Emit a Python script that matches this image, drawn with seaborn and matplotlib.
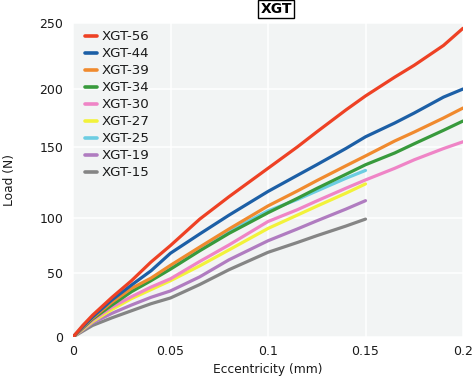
import numpy as np
import pandas as pd
import matplotlib
matplotlib.use("Agg")
import matplotlib.pyplot as plt
import seaborn as sns

# ---------------- data ----------------
series_names = ["XGT-56", "XGT-44", "XGT-39", "XGT-34", "XGT-30",
                "XGT-27", "XGT-25", "XGT-19", "XGT-15"]
series_colors = ["#ee4124", "#1c5fa6", "#f08a2e", "#389a3c", "#ef84c6",
                 "#f2f23a", "#6ccde2", "#b07cc0", "#858585"]

x_long = [0, 0.005, 0.01, 0.02, 0.03, 0.04, 0.05, 0.065, 0.08, 0.1,
          0.115, 0.125, 0.14, 0.15, 0.165, 0.175, 0.19, 0.2]
x_short = [0, 0.005, 0.01, 0.02, 0.03, 0.04, 0.05, 0.065, 0.08, 0.1,
           0.115, 0.125, 0.14, 0.15]

xgt56 = [0, 9, 17, 31, 44, 60, 75, 99, 115, 135, 150, 163, 182, 194, 209, 218, 233, 246]
xgt44 = [0, 8, 15.6, 29, 40.6, 52, 68, 85.5, 102, 118.7, 130, 137.5, 149, 158.8, 170.7, 179.3, 193, 200]
xgt39 = [0, 7.5, 14.8, 27.3, 38, 46, 57, 73.6, 90, 108.5, 119, 126.3, 136.8, 143.7, 155.2, 162.9, 175, 183.6]
xgt34 = [0, 7, 14, 25, 35.4, 44, 53.5, 70.2, 86, 103.7, 113.8, 120.8, 130.8, 137.5, 145.8, 152.8, 164.4, 172.4]
xgt30 = [0, 6.5, 13, 23.4, 31.5, 39, 45.5, 60.5, 75.5, 96.8, 105.8, 112, 121, 126.8, 135, 141, 148.9, 154.5]
xgt27 = [0, 6, 12, 21.5, 30, 37, 44, 56.5, 71, 90.5, 102, 108.3, 117.5, 124]
xgt25 = [0, 7.5, 14.5, 26, 37, 45, 55, 72, 88, 105, 113, 119, 128, 133.5]
xgt19 = [0, 5.5, 11, 18.5, 25, 31, 36, 47, 62, 79.3, 90, 97.4, 106.3, 112.2]
xgt15 = [0, 4.5, 9, 15, 20.5, 26, 30.5, 41, 53, 68.8, 77.7, 83.9, 92.7, 99]

series_values = [xgt56, xgt44, xgt39, xgt34, xgt30, xgt27, xgt25, xgt19, xgt15]

x_ticks = [0, 0.05, 0.1, 0.15, 0.2]
x_tick_labels = ["0", "0.05", "0.1", "0.15", "0.2"]
y_ticks = [0, 50, 100, 150, 200, 250]
y_tick_labels = ["0", "50", "100", "150", "200", "250"]
# the reference's value axis is not evenly spaced; tick positions as drawn
y_tick_display = [0, 64, 119, 190, 248, 314]

# ---------------- table ----------------
rows = []
for name, vals in zip(series_names, series_values):
    xs = x_long if len(vals) == len(x_long) else x_short
    for xv, yv in zip(xs, vals):
        rows.append({"Eccentricity": xv, "Load": yv, "Series": name})
df = pd.DataFrame(rows)

# ---------------- plot ----------------
sns.set_theme(style="darkgrid")
plt.rcParams["font.family"] = ["DejaVu Sans"]

fig = plt.figure(figsize=(4.74, 3.81), dpi=100)
ax = fig.add_axes([73 / 474, 44 / 381, 390 / 474, 314 / 381])
ax.set_facecolor("#f2f4f4")

palette = dict(zip(series_names, series_colors))
sns.lineplot(data=df, x="Eccentricity", y="Load", hue="Series",
             hue_order=series_names, palette=palette, estimator=None,
             sort=False, linewidth=2.3, ax=ax)

# red on top, etc.
n = len(series_names)
for i, ln in enumerate(ax.lines[:n]):
    ln.set_zorder(3 + n - i)
    ln.set_solid_capstyle("round")
    ln.set_solid_joinstyle("round")

def fwd(v):
    return np.interp(v, y_ticks, y_tick_display)

def inv(d):
    return np.interp(d, y_tick_display, y_ticks)

ax.set_yscale("function", functions=(fwd, inv))
ax.set_ylim(0, 250)
ax.set_xlim(0, 0.2)
ax.set_xticks(x_ticks)
ax.set_xticklabels(x_tick_labels)
ax.set_yticks(y_ticks)
ax.set_yticklabels(y_tick_labels)
ax.yaxis.set_minor_locator(matplotlib.ticker.NullLocator())
ax.grid(True, color="white", linewidth=1.1)
for s in ax.spines.values():
    s.set_visible(False)
ax.tick_params(axis="both", length=0, labelsize=9, colors="#1a1a1a")
ax.tick_params(axis="y", pad=7)
ax.tick_params(axis="x", pad=6)
ax.set_xlabel("Eccentricity (mm)", fontsize=8.8, color="#1a1a1a", labelpad=3)
ax.set_ylabel("Load (N)", fontsize=8.8, color="#1a1a1a", labelpad=17)

leg = ax.legend(loc="upper left", bbox_to_anchor=(0.014, 0.998), frameon=False,
                fontsize=9.6, handlelength=0.9, handletextpad=0.35,
                labelspacing=0.3, borderpad=0.5, borderaxespad=0)
for h in leg.get_lines():
    h.set_linewidth(2.6)
for t in leg.get_texts():
    t.set_color("#1a1a1a")

fig.text(276 / 474, 1 - 9 / 381, "XGT", ha="center", va="center",
         fontsize=10, fontweight="bold", color="black",
         bbox=dict(boxstyle="square,pad=0.15", facecolor="white",
                   edgecolor="black", linewidth=1))

fig.savefig("out.png", dpi=100)
